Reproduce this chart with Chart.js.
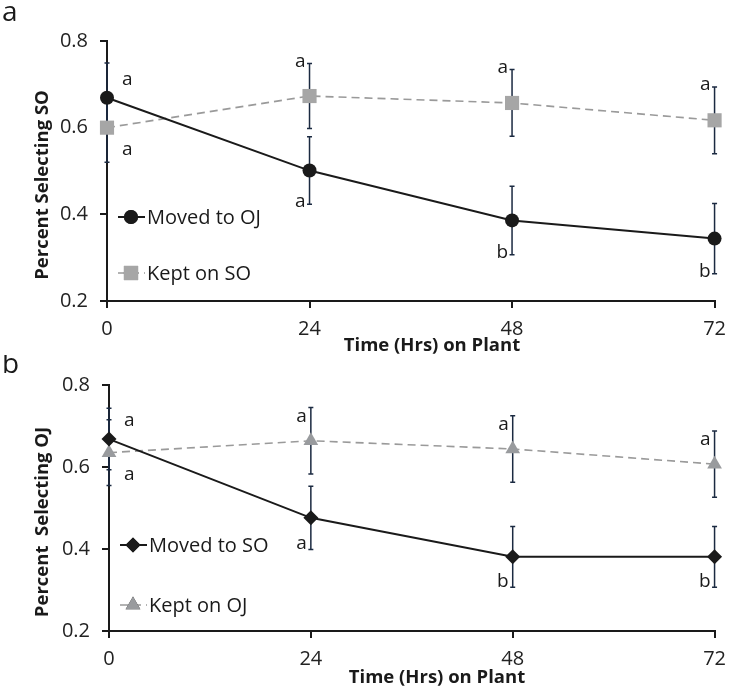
<!DOCTYPE html>
<html>
<head>
<meta charset="utf-8">
<script src="https://cdn.jsdelivr.net/npm/chart.js@4.4.0/dist/chart.umd.min.js"></script>
<style>
  html, body { margin: 0; padding: 0; background: #fff; }
  #wrap { position: relative; width: 735px; height: 692px; }
  canvas { position: absolute; left: 0; }
  #chartSO { top: 0; }
  #chartOJ { top: 355px; }
</style>
</head>
<body>
<div id="wrap">
  <canvas id="chartSO" width="735" height="355"></canvas>
  <canvas id="chartOJ" width="735" height="337"></canvas>
</div>
<script>
// ---------- DATA ----------
const hours = [0, 24, 48, 72];
const yTicks = [0.2, 0.4, 0.6, 0.8];

// panel a : percent selecting SO
const movedToOJ = [0.669, 0.501, 0.386, 0.344];
const movedToOJErr = [0.08, 0.078, 0.079, 0.081];
const movedToOJLetters = ["a", "a", "b", "b"];
const movedToOJLetterPos = ["top", "bottom", "bottom", "bottom"];

const keptOnSO = [0.600, 0.673, 0.657, 0.617];
const keptOnSOErr = [0.08, 0.075, 0.077, 0.077];
const keptOnSOLetters = ["a", "a", "a", "a"];
const keptOnSOLetterPos = ["bottom", "top", "top", "top"];

// panel b : percent selecting OJ
const movedToSO = [0.668, 0.476, 0.381, 0.381];
const movedToSOErr = [0.075, 0.077, 0.074, 0.074];
const movedToSOLetters = ["a", "a", "b", "b"];
const movedToSOLetterPos = ["top", "bottom", "bottom", "bottom"];

const keptOnOJ = [0.635, 0.664, 0.644, 0.607];
const keptOnOJErr = [0.08, 0.081, 0.081, 0.081];
const keptOnOJLetters = ["a", "a", "a", "a"];
const keptOnOJLetterPos = ["bottom", "top", "top", "top"];

const FONT = "'Open Sans', 'DejaVu Sans', sans-serif";
const INK = "#1a1a1a";
const BAR = "#1b2a41";

function pts(vals) {
  return hours.map((h, i) => ({ x: h, y: vals[i] }));
}

// ---------- DECOR PLUGIN (error bars, letters, legend, titles) ----------
const decor = {
  id: "decor",
  beforeDatasetsDraw(chart) {
    const { ctx, scales: { x, y } } = chart;
    ctx.save();
    ctx.strokeStyle = BAR;
    ctx.lineWidth = 1.5;
    chart.data.datasets.forEach(ds => {
      ds.errorBars.forEach((e, i) => {
        const px = x.getPixelForValue(hours[i]);
        const t = y.getPixelForValue(ds.data[i].y + e);
        const b = y.getPixelForValue(ds.data[i].y - e);
        ctx.beginPath();
        ctx.moveTo(px, t); ctx.lineTo(px, b);
        ctx.moveTo(px - 2.5, t); ctx.lineTo(px + 2.5, t);
        ctx.moveTo(px - 2.5, b); ctx.lineTo(px + 2.5, b);
        ctx.stroke();
      });
    });
    ctx.restore();
  },
  afterDatasetsDraw(chart, args, opts) {
    const { ctx, scales: { x, y } } = chart;
    ctx.save();
    ctx.fillStyle = INK;
    ctx.font = "19px " + FONT;
    ctx.textBaseline = "alphabetic";
    chart.data.datasets.forEach(ds => {
      ds.letters.forEach((l, i) => {
        const v = ds.data[i].y, e = ds.errorBars[i];
        const px = x.getPixelForValue(hours[i]);
        const pos = ds.letterPos[i];
        if (hours[i] === 0) {
          ctx.textAlign = "left";
          const py = y.getPixelForValue(v);
          ctx.fillText(l, px + 15, pos === "top" ? py - 13 : py + 27);
        } else {
          ctx.textAlign = "right";
          const end = y.getPixelForValue(pos === "top" ? v + e : v - e);
          ctx.fillText(l, px - 4, end + opts.shift[pos]);
        }
      });
    });
    ctx.restore();
  },
  afterDraw(chart, args, opts) {
    const { ctx, chartArea } = chart;
    ctx.save();
    ctx.fillStyle = INK;

    // panel letter
    ctx.font = "28px " + FONT;
    ctx.textAlign = "left";
    ctx.textBaseline = "alphabetic";
    ctx.fillText(opts.panel, 2, opts.panelY);

    // legend inside plot
    ctx.font = "20px " + FONT;
    ctx.textBaseline = "middle";
    chart.data.datasets.forEach((ds, i) => {
      const ly = chartArea.top + opts.legendY[i];
      const lx = chartArea.left + 11;
      ctx.save();
      ctx.strokeStyle = ds.borderColor;
      ctx.lineWidth = ds.borderWidth;
      ctx.setLineDash(ds.borderDash || []);
      ctx.beginPath();
      ctx.moveTo(lx, ly); ctx.lineTo(lx + 27, ly);
      ctx.stroke();
      ctx.restore();
      Chart.helpers.drawPoint(ctx, {
        pointStyle: ds.pointStyle, radius: ds.pointRadius, borderWidth: 0
      }, lx + 13, ly);
      ctx.fillStyle = ds.pointBackgroundColor;
      ctx.fill();
      ctx.fillStyle = INK;
      ctx.fillText(ds.label, lx + 29, ly + 1);
    });

    // axis titles
    ctx.font = "bold 18.5px " + FONT;
    ctx.textAlign = "center";
    ctx.fillText(opts.xTitle, opts.xTitleAt[0], opts.xTitleAt[1]);
    ctx.save();
    ctx.translate(opts.yTitleAt[0], opts.yTitleAt[1]);
    ctx.rotate(-Math.PI / 2);
    ctx.fillText(opts.yTitle, 0, 0);
    ctx.restore();
    ctx.restore();
  }
};

function makeScales(yWidth, xHeight) {
  const tickFont = { family: FONT, size: 20 };
  return {
    x: {
      type: "linear", min: 0, max: 72,
      afterBuildTicks: s => { s.ticks = hours.map(v => ({ value: v })); },
      afterFit: s => { s.height = xHeight; },
      grid: { drawOnChartArea: false, drawTicks: true, tickLength: 7, color: INK, lineWidth: 2 },
      border: { display: true, color: INK, width: 2 },
      ticks: { font: tickFont, color: "#222", padding: 9, maxRotation: 0 }
    },
    y: {
      type: "linear", min: 0.2, max: 0.8,
      afterBuildTicks: s => { s.ticks = yTicks.map(v => ({ value: v })); },
      afterFit: s => { s.width = yWidth; },
      grid: { drawOnChartArea: false, drawTicks: true, tickLength: 7, color: INK, lineWidth: 2 },
      border: { display: true, color: INK, width: 2 },
      ticks: { font: tickFont, color: "#222", padding: 12, callback: v => v.toFixed(1) }
    }
  };
}

function solidSet(label, vals, err, letters, pos, style, radius) {
  return {
    label, data: pts(vals), errorBars: err, letters, letterPos: pos,
    borderColor: INK, borderWidth: 2,
    pointStyle: style, pointRadius: radius, pointHoverRadius: radius,
    pointBackgroundColor: INK, pointBorderWidth: 0,
    clip: false
  };
}

function dashedSet(label, vals, err, letters, pos, style, radius, color) {
  return {
    label, data: pts(vals), errorBars: err, letters, letterPos: pos,
    borderColor: "#9a9a9a", borderWidth: 1.6, borderDash: [8, 5],
    pointStyle: style, pointRadius: radius, pointHoverRadius: radius,
    pointBackgroundColor: color, pointBorderWidth: 0,
    clip: false
  };
}

// ---------- PANEL A ----------
new Chart(document.getElementById("chartSO"), {
  type: "line",
  data: {
    datasets: [
      solidSet("Moved to OJ", movedToOJ, movedToOJErr, movedToOJLetters, movedToOJLetterPos, "circle", 7),
      dashedSet("Kept on SO", keptOnSO, keptOnSOErr, keptOnSOLetters, keptOnSOLetterPos, "rect", 10, "#a6a6a6")
    ]
  },
  options: {
    responsive: false,
    animation: false,
    layout: { padding: { top: 41, right: 12, left: 0, bottom: 0 } },
    scales: makeScales(107, 54),
    plugins: {
      legend: { display: false },
      tooltip: { enabled: false },
      decor: {
        panel: "a", panelY: 21,
        legendY: [176, 232],
        shift: { top: 3, bottom: 3 },
        xTitle: "Time (Hrs) on Plant", xTitleAt: [432, 346],
        yTitle: "Percent Selecting SO", yTitleAt: [43, 185]
      }
    }
  },
  plugins: [decor]
});

// ---------- PANEL B ----------
new Chart(document.getElementById("chartOJ"), {
  type: "line",
  data: {
    datasets: [
      solidSet("Moved to SO", movedToSO, movedToSOErr, movedToSOLetters, movedToSOLetterPos, "rectRot", 7.5),
      dashedSet("Kept on OJ", keptOnOJ, keptOnOJErr, keptOnOJLetters, keptOnOJLetterPos, "triangle", 8.5, "#999b9e")
    ]
  },
  options: {
    responsive: false,
    animation: false,
    layout: { padding: { top: 30, right: 12, left: 0, bottom: 0 } },
    scales: makeScales(109, 61),
    plugins: {
      legend: { display: false },
      tooltip: { enabled: false },
      decor: {
        panel: "b", panelY: 18,
        legendY: [160, 220],
        shift: { top: 14, bottom: 0 },
        xTitle: "Time (Hrs) on Plant", xTitleAt: [437, 323],
        yTitle: "Percent  Selecting OJ", yTitleAt: [43, 167]
      }
    }
  },
  plugins: [decor]
});
</script>
</body>
</html>
